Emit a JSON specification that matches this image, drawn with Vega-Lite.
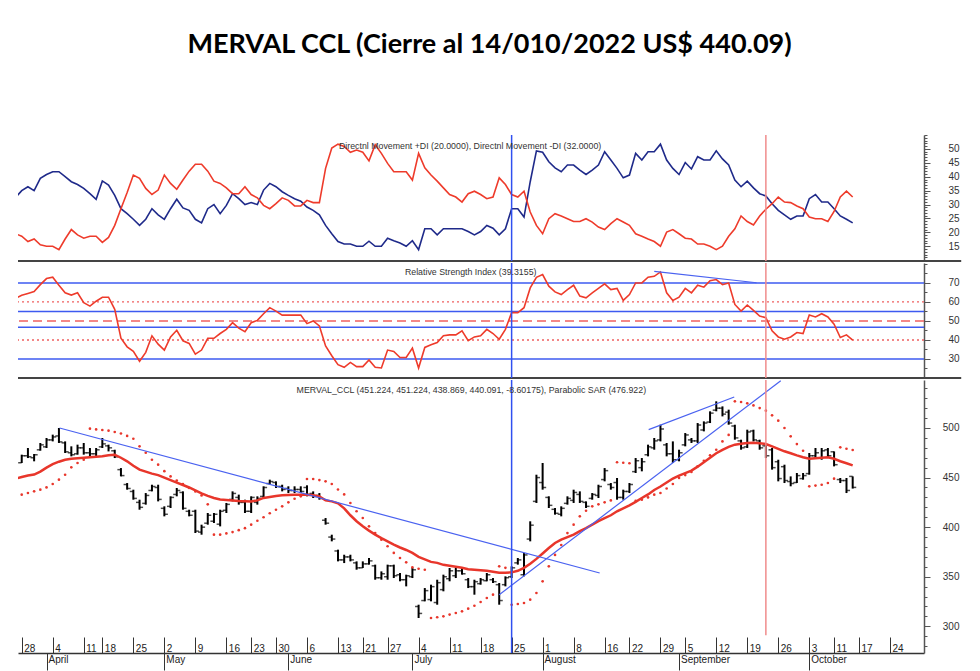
{
  "$schema": "https://vega.github.io/schema/vega-lite/v6.json",
  "background": "white",
  "padding": {"left": 17, "top": 31, "right": 0, "bottom": 0},
  "title": {"text": "MERVAL CCL (Cierre al 14/010/2022 US$ 440.09)", "font": "Lato", "fontSize": 27, "fontWeight": "bold", "color": "#000000", "anchor": "middle", "offset": 75},
  "spacing": 0,
  "resolve": {"scale": {"x": "independent", "y": "independent"}},
  "config": {
    "view": {"stroke": null},
    "axis": {"grid": false, "labelFont": "Liberation Sans", "labelFontSize": 10, "labelColor": "#333333", "tickColor": "#555555", "domainColor": "#555555"},
    "text": {"font": "Liberation Sans"}
  },
  "datasets": {
    "d": [
      {"i":-1,"ma":449,"sar":431,"dp":32.5,"dm":19.5,"rsi":62.0},
      {"i":0,"o":465,"h":473.1,"l":464.7,"c":472,"ma":450.5,"sar":432.8,"dp":35.0,"dm":18.6,"rsi":63.5},
      {"i":1,"o":472,"h":479.8,"l":469.7,"c":471,"ma":452,"sar":434.4,"dp":36.4,"dm":16.7,"rsi":64.5},
      {"i":2,"o":470,"h":473.8,"l":466.4,"c":473,"ma":453,"sar":436.1,"dp":35.0,"dm":17.6,"rsi":65.5},
      {"i":3,"o":478,"h":484.9,"l":477.1,"c":483,"ma":456,"sar":437.8,"dp":39.4,"dm":15.5,"rsi":69.1},
      {"i":4,"o":481,"h":489.9,"l":479.8,"c":488,"ma":460,"sar":440.1,"dp":40.8,"dm":15.0,"rsi":72.3},
      {"i":5,"o":488,"h":493.3,"l":486.5,"c":491,"ma":463.5,"sar":443.5,"dp":41.8,"dm":15.0,"rsi":73.0},
      {"i":6,"o":492,"h":500.0,"l":484.9,"c":486,"ma":466,"sar":447.9,"dp":41.8,"dm":13.8,"rsi":68.8},
      {"i":7,"o":485,"h":486.5,"l":474.8,"c":476,"ma":468,"sar":452.9,"dp":40.0,"dm":17.6,"rsi":64.8},
      {"i":8,"o":475,"h":481.5,"l":471.4,"c":473,"ma":469,"sar":460.3,"dp":38.2,"dm":21.0,"rsi":63.6},
      {"i":9,"o":474,"h":483.2,"l":473.1,"c":480,"ma":469.5,"sar":464.7,"dp":37.2,"dm":19.1,"rsi":64.8},
      {"i":10,"o":480,"h":484.9,"l":473.1,"c":475,"ma":470,"sar":468.0,"dp":35.8,"dm":17.9,"rsi":59.6},
      {"i":11,"o":475,"h":479.8,"l":471.4,"c":474,"ma":470.5,"sar":499.3,"dp":33.9,"dm":18.6,"rsi":57.8},
      {"i":12,"o":474,"h":479.8,"l":471.4,"c":478,"ma":471,"sar":498.6,"dp":31.9,"dm":18.6,"rsi":60.4},
      {"i":13,"o":481,"h":489.9,"l":479.8,"c":484,"ma":471.5,"sar":498.0,"dp":38.5,"dm":16.4,"rsi":62.5},
      {"i":14,"o":482,"h":483.2,"l":476.4,"c":480,"ma":472.5,"sar":497.3,"dp":37.0,"dm":18.2,"rsi":62.5},
      {"i":15,"o":477,"h":478.1,"l":469.7,"c":471,"ma":473,"sar":496.0,"dp":33.3,"dm":22.5,"rsi":56.1},
      {"i":16,"o":458,"h":459.6,"l":451.2,"c":452,"ma":470,"sar":494.5,"dp":28.5,"dm":28.5,"rsi":40.9},
      {"i":17,"o":443,"h":444.5,"l":437.8,"c":439,"ma":466.4,"sar":492.0,"dp":26.7,"dm":34.3,"rsi":36.4},
      {"i":18,"o":436,"h":437.8,"l":427.7,"c":429,"ma":462,"sar":489.2,"dp":24.7,"dm":40.6,"rsi":34.0},
      {"i":19,"o":425,"h":427.7,"l":417.6,"c":420,"ma":458,"sar":481.5,"dp":22.5,"dm":39.4,"rsi":28.8},
      {"i":20,"o":424,"h":434.4,"l":422.7,"c":432,"ma":456,"sar":475,"dp":24.7,"dm":35.8,"rsi":33.5},
      {"i":21,"o":437,"h":442.8,"l":436.1,"c":441,"ma":454,"sar":468,"dp":28.5,"dm":33.6,"rsi":42.2},
      {"i":22,"o":440,"h":442.8,"l":426.0,"c":428,"ma":452.5,"sar":463,"dp":26.3,"dm":35.2,"rsi":37.8},
      {"i":23,"o":419,"h":421.0,"l":410.9,"c":413,"ma":450,"sar":456.5,"dp":24.7,"dm":40.6,"rsi":34.7},
      {"i":24,"o":421,"h":431.1,"l":419.3,"c":430,"ma":447.5,"sar":451.2,"dp":28.5,"dm":37.6,"rsi":41.6},
      {"i":25,"o":433,"h":439.5,"l":431.1,"c":437,"ma":445,"sar":447,"dp":31.9,"dm":35.5,"rsi":45.1},
      {"i":26,"o":435,"h":436.1,"l":417.6,"c":419,"ma":442.5,"sar":443.5,"dp":28.8,"dm":38.8,"rsi":39.6},
      {"i":27,"o":416,"h":417.6,"l":410.9,"c":412,"ma":440,"sar":439.5,"dp":27.9,"dm":42.0,"rsi":38.2},
      {"i":28,"o":416,"h":417.6,"l":394.1,"c":396,"ma":437,"sar":436,"dp":24.7,"dm":44.5,"rsi":32.6},
      {"i":29,"o":395,"h":402.5,"l":392.4,"c":400,"ma":434,"sar":432,"dp":23.4,"dm":44.5,"rsi":34.7},
      {"i":30,"o":404,"h":414.3,"l":402.5,"c":412,"ma":431.5,"sar":423,"dp":28.5,"dm":42.0,"rsi":40.9},
      {"i":31,"o":406,"h":414.3,"l":404.2,"c":413,"ma":429.4,"sar":392.4,"dp":30.0,"dm":38.4,"rsi":40.9},
      {"i":32,"o":403,"h":417.6,"l":400.8,"c":416,"ma":428,"sar":392.4,"dp":26.7,"dm":37.6,"rsi":43.4},
      {"i":33,"o":417,"h":424.4,"l":414.3,"c":423,"ma":427.5,"sar":393.7,"dp":29.7,"dm":36.0,"rsi":45.6},
      {"i":34,"o":428,"h":436.1,"l":426.0,"c":434,"ma":427,"sar":395,"dp":33.9,"dm":33.9,"rsi":49.1},
      {"i":35,"o":430,"h":432.8,"l":422.7,"c":425,"ma":426.5,"sar":397,"dp":32.1,"dm":33.9,"rsi":46.2},
      {"i":36,"o":425,"h":427.7,"l":414.3,"c":416,"ma":426.2,"sar":399,"dp":30.0,"dm":36.4,"rsi":44.4},
      {"i":37,"o":416,"h":431.1,"l":414.3,"c":430,"ma":426,"sar":402.5,"dp":30.7,"dm":33.6,"rsi":49.1},
      {"i":38,"o":425,"h":431.1,"l":422.7,"c":429,"ma":427,"sar":406.5,"dp":30.0,"dm":32.4,"rsi":50.3},
      {"i":39,"o":431,"h":441.2,"l":429.4,"c":440,"ma":429.5,"sar":410,"dp":35.2,"dm":29.7,"rsi":53.8},
      {"i":40,"o":444,"h":447.9,"l":442.8,"c":446,"ma":430.5,"sar":414,"dp":37.6,"dm":28.5,"rsi":57.0},
      {"i":41,"o":445,"h":446.2,"l":439.5,"c":441,"ma":431.5,"sar":417.6,"dp":36.4,"dm":30.3,"rsi":55.2},
      {"i":42,"o":441,"h":442.8,"l":436.1,"c":438,"ma":432.1,"sar":421,"dp":34.6,"dm":32.4,"rsi":53.1},
      {"i":43,"o":439,"h":441.2,"l":434.4,"c":437,"ma":432.5,"sar":425,"dp":33.3,"dm":31.5,"rsi":53.1},
      {"i":44,"o":437,"h":441.2,"l":434.4,"c":438,"ma":432.8,"sar":428.7,"dp":32.1,"dm":29.5,"rsi":53.1},
      {"i":45,"o":438,"h":441.2,"l":434.4,"c":436,"ma":432.8,"sar":431.1,"dp":31.2,"dm":29.5,"rsi":53.1},
      {"i":46,"o":440,"h":442.2,"l":431.1,"c":433,"ma":432.8,"sar":448.6,"dp":29.1,"dm":31.5,"rsi":48.6},
      {"i":47,"o":434,"h":436.1,"l":429.4,"c":431,"ma":432.1,"sar":448.6,"dp":27.9,"dm":30.7,"rsi":50.0},
      {"i":48,"o":432,"h":434.4,"l":427.7,"c":429,"ma":431,"sar":447.5,"dp":26.3,"dm":30.7,"rsi":47.4},
      {"i":49,"o":407,"h":409.2,"l":402.5,"c":404,"ma":427,"sar":446.2,"dp":22.5,"dm":43.0,"rsi":36.9},
      {"i":50,"o":390,"h":392.4,"l":385.7,"c":388,"ma":426,"sar":443.5,"dp":19.5,"dm":50.3,"rsi":31.7},
      {"i":51,"o":376,"h":377.3,"l":365.5,"c":367,"ma":424,"sar":438,"dp":16.7,"dm":51.7,"rsi":27.0},
      {"i":52,"o":367,"h":372.2,"l":363.8,"c":370,"ma":419,"sar":433,"dp":15.8,"dm":50.9,"rsi":25.6},
      {"i":53,"o":370,"h":372.2,"l":365.5,"c":367,"ma":412,"sar":424.4,"dp":15.8,"dm":48.8,"rsi":28.2},
      {"i":54,"o":364,"h":365.5,"l":357.1,"c":359,"ma":406,"sar":416,"dp":15.0,"dm":49.6,"rsi":26.0},
      {"i":55,"o":359,"h":365.5,"l":358.8,"c":363,"ma":401,"sar":409.2,"dp":15.0,"dm":48.8,"rsi":26.0},
      {"i":56,"o":363,"h":368.9,"l":362.2,"c":366,"ma":396.5,"sar":400.8,"dp":16.8,"dm":45.7,"rsi":29.5},
      {"i":57,"o":361,"h":362.2,"l":347.0,"c":349,"ma":392.5,"sar":394.1,"dp":15.0,"dm":51.5,"rsi":25.6},
      {"i":58,"o":349,"h":355.4,"l":347.0,"c":353,"ma":389,"sar":387.4,"dp":15.0,"dm":48.4,"rsi":25.3},
      {"i":59,"o":350,"h":362.2,"l":347.0,"c":361,"ma":385.7,"sar":380.7,"dp":17.9,"dm":44.8,"rsi":34.7},
      {"i":60,"o":361,"h":362.2,"l":348.7,"c":351,"ma":382.5,"sar":374,"dp":17.0,"dm":41.8,"rsi":34.0},
      {"i":61,"o":352,"h":353.8,"l":345.4,"c":347,"ma":379.5,"sar":368.9,"dp":16.2,"dm":41.8,"rsi":30.8},
      {"i":62,"o":347,"h":352.1,"l":340.3,"c":351,"ma":377,"sar":364.5,"dp":15.0,"dm":41.8,"rsi":30.8},
      {"i":63,"o":350,"h":358.8,"l":348.7,"c":357,"ma":374,"sar":359.5,"dp":17.0,"dm":38.8,"rsi":35.7},
      {"i":64,"o":320,"h":321.8,"l":308.4,"c":313,"ma":370,"sar":358.1,"dp":13.8,"dm":48.4,"rsi":25.3},
      {"i":65,"o":326,"h":338.6,"l":325.2,"c":336,"ma":367.5,"sar":357.1,"dp":21.3,"dm":43.2,"rsi":36.1},
      {"i":66,"o":327,"h":342.0,"l":325.2,"c":340,"ma":365,"sar":308.4,"dp":21.3,"dm":40.6,"rsi":37.5},
      {"i":67,"o":324,"h":347.0,"l":321.8,"c":344,"ma":364,"sar":309.1,"dp":19.1,"dm":38.4,"rsi":38.7},
      {"i":68,"o":337,"h":352.1,"l":335.3,"c":350,"ma":362,"sar":310.1,"dp":21.3,"dm":36.0,"rsi":42.2},
      {"i":69,"o":348,"h":358.8,"l":345.4,"c":356,"ma":361,"sar":311.8,"dp":21.3,"dm":33.6,"rsi":42.7},
      {"i":70,"o":351,"h":358.8,"l":348.7,"c":356,"ma":360,"sar":313.4,"dp":21.3,"dm":32.7,"rsi":42.7},
      {"i":71,"o":356,"h":358.8,"l":352.1,"c":353,"ma":359,"sar":315.1,"dp":21.3,"dm":30.9,"rsi":44.8},
      {"i":72,"o":347,"h":348.7,"l":338.6,"c":340,"ma":357.5,"sar":317.8,"dp":20.3,"dm":33.9,"rsi":39.6},
      {"i":73,"o":340,"h":347.0,"l":331.9,"c":345,"ma":357,"sar":320.8,"dp":19.1,"dm":34.8,"rsi":41.6},
      {"i":74,"o":343,"h":348.7,"l":342.0,"c":347,"ma":356.5,"sar":324.5,"dp":20.3,"dm":33.6,"rsi":42.2},
      {"i":75,"o":346,"h":353.8,"l":345.4,"c":352,"ma":356,"sar":328.6,"dp":22.5,"dm":32.1,"rsi":45.6},
      {"i":76,"o":347,"h":348.7,"l":343.7,"c":345,"ma":355,"sar":331.9,"dp":21.5,"dm":32.7,"rsi":43.4},
      {"i":77,"o":342,"h":343.7,"l":321.8,"c":326,"ma":354,"sar":360.5,"dp":19.1,"dm":39.6,"rsi":40.4},
      {"i":78,"o":342,"h":350.4,"l":340.3,"c":349,"ma":354,"sar":359,"dp":21.3,"dm":37.2,"rsi":45.6},
      {"i":79,"o":350,"h":360.5,"l":348.7,"c":359,"ma":354.4,"sar":321.8,"dp":28.5,"dm":33.6,"rsi":54.4},
      {"i":80,"o":364,"h":368.9,"l":362.2,"c":367,"ma":356,"sar":322.5,"dp":28.5,"dm":32.7,"rsi":54.4},
      {"i":81,"o":352,"h":373.9,"l":350.4,"c":372,"ma":359,"sar":323.5,"dp":25.5,"dm":34.8,"rsi":57.0},
      {"i":82,"o":388,"h":405.9,"l":385.7,"c":402,"ma":363,"sar":326.9,"dp":38.2,"dm":27.3,"rsi":67.4},
      {"i":83,"o":426,"h":452.9,"l":424.4,"c":450,"ma":368,"sar":333.6,"dp":49.3,"dm":22.5,"rsi":73.0},
      {"i":84,"o":445,"h":464.7,"l":437.8,"c":440,"ma":373.5,"sar":345.4,"dp":48.8,"dm":19.5,"rsi":74.4},
      {"i":85,"o":430,"h":431.1,"l":419.3,"c":422,"ma":379,"sar":360.5,"dp":45.4,"dm":24.9,"rsi":68.3},
      {"i":86,"o":418,"h":419.3,"l":412.6,"c":414,"ma":384,"sar":372,"dp":43.2,"dm":26.7,"rsi":65.3},
      {"i":87,"o":413,"h":421.0,"l":410.9,"c":419,"ma":387.5,"sar":382,"dp":41.8,"dm":25.9,"rsi":63.9},
      {"i":88,"o":424,"h":431.1,"l":422.7,"c":429,"ma":390,"sar":394,"dp":44.2,"dm":24.9,"rsi":66.5},
      {"i":89,"o":427,"h":437.8,"l":424.4,"c":435,"ma":392.5,"sar":402.5,"dp":44.2,"dm":23.9,"rsi":68.8},
      {"i":90,"o":433,"h":436.1,"l":424.4,"c":426,"ma":396,"sar":410.9,"dp":42.4,"dm":23.9,"rsi":63.1},
      {"i":91,"o":425,"h":426.0,"l":419.3,"c":421,"ma":399,"sar":416.5,"dp":40.8,"dm":24.9,"rsi":62.2},
      {"i":92,"o":429,"h":434.4,"l":427.7,"c":433,"ma":402.5,"sar":421,"dp":42.4,"dm":23.7,"rsi":64.8},
      {"i":93,"o":432,"h":442.8,"l":429.4,"c":441,"ma":406,"sar":423,"dp":44.2,"dm":21.9,"rsi":67.1},
      {"i":94,"o":448,"h":459.6,"l":446.2,"c":457,"ma":409,"sar":425,"dp":49.0,"dm":21.0,"rsi":69.5},
      {"i":95,"o":443,"h":444.5,"l":437.8,"c":440,"ma":412,"sar":427,"dp":46.0,"dm":23.1,"rsi":66.5},
      {"i":96,"o":445,"h":449.6,"l":427.7,"c":430,"ma":416,"sar":465.5,"dp":43.0,"dm":24.9,"rsi":67.1},
      {"i":97,"o":430,"h":437.8,"l":427.7,"c":436,"ma":419,"sar":465,"dp":39.6,"dm":23.7,"rsi":60.8},
      {"i":98,"o":436,"h":444.5,"l":434.4,"c":443,"ma":422,"sar":464.5,"dp":40.6,"dm":22.5,"rsi":63.9},
      {"i":99,"o":456,"h":469.7,"l":454.6,"c":467,"ma":425.5,"sar":426.5,"dp":48.4,"dm":19.5,"rsi":70.0},
      {"i":100,"o":460,"h":469.7,"l":456.3,"c":466,"ma":429.4,"sar":427.7,"dp":46.0,"dm":18.6,"rsi":70.0},
      {"i":101,"o":473,"h":483.2,"l":471.4,"c":481,"ma":433,"sar":430,"dp":49.0,"dm":17.6,"rsi":73.0},
      {"i":102,"o":480,"h":489.9,"l":478.1,"c":487,"ma":437.5,"sar":432.8,"dp":49.0,"dm":16.7,"rsi":73.5},
      {"i":103,"o":488,"h":503.3,"l":486.5,"c":499,"ma":441,"sar":434.4,"dp":51.7,"dm":15.0,"rsi":75.8},
      {"i":104,"o":483,"h":484.9,"l":471.4,"c":474,"ma":445,"sar":439,"dp":46.0,"dm":20.1,"rsi":64.8},
      {"i":105,"o":474,"h":486.5,"l":464.7,"c":468,"ma":449,"sar":443.5,"dp":43.0,"dm":21.0,"rsi":60.8},
      {"i":106,"o":468,"h":478.1,"l":466.4,"c":475,"ma":452,"sar":449.6,"dp":40.8,"dm":19.5,"rsi":62.5},
      {"i":107,"o":483,"h":494.9,"l":481.5,"c":493,"ma":454.5,"sar":452.5,"dp":45.1,"dm":17.9,"rsi":67.1},
      {"i":108,"o":488,"h":489.9,"l":484.9,"c":487,"ma":457,"sar":455.6,"dp":42.8,"dm":17.6,"rsi":64.8},
      {"i":109,"o":487,"h":505.0,"l":484.9,"c":503,"ma":461,"sar":461.3,"dp":47.2,"dm":15.8,"rsi":68.8},
      {"i":110,"o":498,"h":506.7,"l":496.6,"c":505,"ma":465.5,"sar":467,"dp":46.0,"dm":15.8,"rsi":67.8},
      {"i":111,"o":506,"h":516.8,"l":505.0,"c":515,"ma":470,"sar":472.4,"dp":46.0,"dm":15.0,"rsi":71.2},
      {"i":112,"o":518,"h":526.9,"l":516.8,"c":520,"ma":474.5,"sar":478.1,"dp":49.3,"dm":13.8,"rsi":71.8},
      {"i":113,"o":520,"h":521.8,"l":511.7,"c":514,"ma":478,"sar":486.5,"dp":46.4,"dm":15.0,"rsi":69.1},
      {"i":114,"o":516,"h":518.5,"l":503.3,"c":505,"ma":481,"sar":493,"dp":44.2,"dm":18.6,"rsi":70.0},
      {"i":115,"o":502,"h":503.3,"l":488.2,"c":490,"ma":483.2,"sar":526.9,"dp":38.8,"dm":21.3,"rsi":58.7},
      {"i":116,"o":487,"h":488.2,"l":478.1,"c":480,"ma":484,"sar":526.2,"dp":36.4,"dm":25.9,"rsi":55.2},
      {"i":117,"o":481,"h":498.3,"l":479.8,"c":496,"ma":484.8,"sar":524.9,"dp":38.4,"dm":23.9,"rsi":58.4},
      {"i":118,"o":497,"h":498.3,"l":486.5,"c":488,"ma":485,"sar":522.8,"dp":36.0,"dm":22.7,"rsi":55.6},
      {"i":119,"o":487,"h":488.2,"l":478.1,"c":480,"ma":484.5,"sar":520.1,"dp":33.9,"dm":25.9,"rsi":52.6},
      {"i":120,"o":482,"h":483.2,"l":469.7,"c":472,"ma":483.8,"sar":517.5,"dp":33.1,"dm":28.3,"rsi":51.7},
      {"i":121,"o":478,"h":479.8,"l":458.0,"c":460,"ma":481.5,"sar":512.8,"dp":30.3,"dm":30.3,"rsi":44.8},
      {"i":122,"o":466,"h":468.0,"l":446.2,"c":449,"ma":479,"sar":507.4,"dp":27.9,"dm":32.7,"rsi":41.6},
      {"i":123,"o":461,"h":463.0,"l":444.5,"c":447,"ma":476.5,"sar":500,"dp":26.3,"dm":30.9,"rsi":40.4},
      {"i":124,"o":446,"h":451.2,"l":441.2,"c":444,"ma":474.5,"sar":491.6,"dp":24.7,"dm":30.7,"rsi":41.6},
      {"i":125,"o":445,"h":454.6,"l":444.5,"c":452,"ma":472.4,"sar":483.8,"dp":25.9,"dm":29.5,"rsi":43.9},
      {"i":126,"o":449,"h":454.6,"l":447.9,"c":452,"ma":470.5,"sar":477.1,"dp":25.9,"dm":28.5,"rsi":43.4},
      {"i":127,"o":454,"h":474.8,"l":452.9,"c":472,"ma":469.1,"sar":441.2,"dp":32.1,"dm":25.5,"rsi":53.1},
      {"i":128,"o":472,"h":479.8,"l":469.7,"c":475,"ma":469.5,"sar":441.9,"dp":33.6,"dm":24.9,"rsi":52.1},
      {"i":129,"o":470,"h":479.8,"l":468.0,"c":477,"ma":470,"sar":442.8,"dp":30.9,"dm":24.9,"rsi":53.8},
      {"i":130,"o":478,"h":479.8,"l":469.7,"c":472,"ma":470.4,"sar":444.5,"dp":30.9,"dm":23.9,"rsi":52.1},
      {"i":131,"o":476,"h":476.4,"l":461.3,"c":463,"ma":469,"sar":448.9,"dp":28.5,"dm":27.5,"rsi":48.3},
      {"i":132,"o":448,"h":449.6,"l":444.5,"c":447,"ma":466.5,"sar":480.5,"dp":25.9,"dm":32.7,"rsi":41.3},
      {"i":133,"o":447,"h":449.6,"l":434.4,"c":437,"ma":464.5,"sar":479.1,"dp":24.7,"dm":34.8,"rsi":42.7},
      {"i":134,"o":451.2,"h":451.2,"l":438.9,"c":440.1,"ma":462.3,"sar":477.8,"dp":23.4,"dm":32.7,"rsi":39.9}
    ],
    "tl": [
      {"g":"a","x":6.1,"y":500.0},{"g":"a","x":93.2,"y":353.8},
      {"g":"b","x":77.0,"y":331.9},{"g":"b","x":122.4,"y":547.7},
      {"g":"c","x":101.1,"y":498.3},{"g":"c","x":114.9,"y":531.2}
    ]
  },
  "vconcat": [
    {
      "width": 906, "height": 126,
      "data": {"name": "d"},
      "resolve": {"axis": {"y": "independent"}},
      "layer": [
        {"mark": {"type": "line", "color": "#1f2a8a", "strokeWidth": 1.6, "clip": true},
         "encoding": {
           "x": {"field": "i", "type": "quantitative", "scale": {"domain": [-0.6, 145.5], "nice": false, "zero": false}, "axis": null},
           "y": {"field": "dp", "type": "quantitative", "title": null, "scale": {"domain": [9.7, 55.0], "nice": false, "zero": false},
           "axis": {"orient": "right", "values": [15,20,25,30,35,40,45,50], "format": "d", "tickCount": 300, "tickSize": 6, "labelPadding": 29, "labelAlign": "right", "labelOverlap": false, "labelBound": false, "labelFlush": false, "domainWidth": 1.5, "title": null}}}},
        {"mark": {"type": "line", "color": "#ee3b2b", "strokeWidth": 1.6, "clip": true},
         "encoding": {"x": {"field": "i", "type": "quantitative", "axis": null}, "y": {"field": "dm", "type": "quantitative", "title": null,
           "axis": {"orient": "right", "values": [10,11,12,13,14,16,17,18,19,21,22,23,24,26,27,28,29,31,32,33,34,36,37,38,39,41,42,43,44,46,47,48,49,51,52,53,54,55], "tickCount": 300, "tickSize": 3, "labels": false, "domain": false, "title": null}}}},
        {"data": {"values": [{}]}, "mark": {"type": "rule", "color": "#444444", "strokeWidth": 2},
         "encoding": {"x": {"datum": -0.6, "axis": null}, "x2": {"datum": 151.5}, "y": {"datum": 9.7, "axis": null}}},
        {"data": {"values": [{}]}, "mark": {"type": "rule", "color": "#3050f0", "strokeWidth": 1.5}, "encoding": {"x": {"datum": 79, "axis": null}}},
        {"data": {"values": [{}]}, "mark": {"type": "rule", "color": "#f08c8c", "strokeWidth": 1.5}, "encoding": {"x": {"datum": 120, "axis": null}}},
        {"data": {"values": [{}]}, "mark": {"type": "text", "fontSize": 8.8, "color": "#333333", "align": "center", "baseline": "middle"},
         "encoding": {"x": {"datum": 72.3, "axis": null}, "y": {"datum": 51.0, "axis": null}, "text": {"value": "Directnl Movement +DI (20.0000), Directnl Movement -DI (32.0000)"}}}
      ]
    },
    {
      "width": 906, "height": 115,
      "data": {"name": "d"},
      "resolve": {"axis": {"y": "independent"}},
      "layer": [
        {"data": {"values": [{"v":70},{"v":55},{"v":46.7},{"v":30}]}, "mark": {"type": "rule", "color": "#3d5af0", "strokeWidth": 1.5},
         "encoding": {
           "y": {"field": "v", "type": "quantitative", "title": null, "scale": {"domain": [20, 80.5], "nice": false, "zero": false},
           "axis": {"orient": "right", "values": [30,40,50,60,70], "format": "d", "tickCount": 300, "tickSize": 6, "labelPadding": 29, "labelAlign": "right", "labelOverlap": false, "labelBound": false, "labelFlush": false, "domainWidth": 1.5, "title": null}}}},
        {"data": {"values": [{"v":60},{"v":40}]}, "mark": {"type": "rule", "color": "#f06060", "strokeWidth": 1.3, "strokeDash": [2, 3]},
         "encoding": {"y": {"field": "v", "type": "quantitative", "title": null,
           "axis": {"orient": "right", "values": [25,35,45,55,65,75,80], "tickCount": 300, "tickSize": 3, "labels": false, "domain": false, "title": null}}}},
        {"data": {"values": [{"v":50}]}, "mark": {"type": "rule", "color": "#f06060", "strokeWidth": 1.3, "strokeDash": [9, 5]},
         "encoding": {"y": {"field": "v", "type": "quantitative", "title": null, "axis": null}}},
        {"mark": {"type": "line", "color": "#ee3b2b", "strokeWidth": 1.6, "clip": true},
         "encoding": {"x": {"field": "i", "type": "quantitative", "scale": {"domain": [-0.6, 145.5], "nice": false, "zero": false}, "axis": null}, "y": {"field": "rsi", "type": "quantitative", "title": null, "axis": null}}},
        {"data": {"values": [{}]}, "mark": {"type": "rule", "color": "#4a62f0", "strokeWidth": 1.2},
         "encoding": {"x": {"datum": 102.0, "axis": null}, "x2": {"datum": 118.5}, "y": {"datum": 76.1, "axis": null}, "y2": {"datum": 70.1}}},
        {"data": {"values": [{}]}, "mark": {"type": "rule", "color": "#444444", "strokeWidth": 2},
         "encoding": {"x": {"datum": -0.6, "axis": null}, "x2": {"datum": 151.5}, "y": {"datum": 20, "axis": null}}},
        {"data": {"values": [{}]}, "mark": {"type": "rule", "color": "#3050f0", "strokeWidth": 1.5}, "encoding": {"x": {"datum": 79, "axis": null}}},
        {"data": {"values": [{}]}, "mark": {"type": "rule", "color": "#f08c8c", "strokeWidth": 1.5}, "encoding": {"x": {"datum": 120, "axis": null}}},
        {"data": {"values": [{}]}, "mark": {"type": "text", "fontSize": 8.8, "color": "#333333", "align": "center", "baseline": "middle"},
         "encoding": {"x": {"datum": 72.4, "axis": null}, "y": {"datum": 75.8, "axis": null}, "text": {"value": "Relative Strength Index (39.3155)"}}}
      ]
    },
    {
      "width": 906, "height": 273,
      "data": {"name": "d"},
      "resolve": {"axis": {"x": "independent", "y": "independent"}},
      "layer": [
        {"mark": {"type": "rule", "color": "#000000", "strokeWidth": 2},
         "encoding": {
           "x": {"field": "i", "type": "quantitative", "scale": {"domain": [-0.6, 145.5], "nice": false, "zero": false},
             "axis": {"orient": "bottom", "values": [0,5,10,13,18,23,28,33,37,41,46,51,55,59,64,69,74,79,84,89,94,98,103,107,112,117,122,127,131,135,140], "tickCount": 300,
               "labelExpr": "['28','4','11','18','25','2','9','16','23','30','6','13','21','27','4','11','18','25','1','8','16','22','29','5','12','19','26','3','11','17','24'][indexof([0,5,10,13,18,23,28,33,37,41,46,51,55,59,64,69,74,79,84,89,94,98,103,107,112,117,122,127,131,135,140], datum.value)]",
               "tickSize": -16, "tickColor": "#333333", "labelAlign": "left", "labelBaseline": "top", "labelPadding": 6, "labelOffset": 2, "labelColor": "#222222", "labelOverlap": false, "labelBound": false, "labelFlush": false, "domain": true, "domainColor": "#333333", "domainWidth": 1.5, "title": null}},
           "y": {"field": "h", "type": "quantitative", "title": null, "scale": {"domain": [273.1, 548.4], "nice": false, "zero": false},
             "axis": {"orient": "right", "values": [300,350,400,450,500], "format": "d", "tickCount": 300, "tickSize": 6, "labelPadding": 29, "labelAlign": "right", "labelOverlap": false, "labelBound": false, "labelFlush": false, "domainWidth": 1.5, "title": null}},
           "y2": {"field": "l"}
         }},
        {"mark": {"type": "tick", "orient": "horizontal", "size": 3.5, "thickness": 1.5, "xOffset": -1.8, "color": "#000000"},
         "encoding": {"x": {"field": "i", "type": "quantitative", "axis": null}, "y": {"field": "o", "type": "quantitative", "title": null, "axis": null}}},
        {"mark": {"type": "tick", "orient": "horizontal", "size": 3.5, "thickness": 1.5, "xOffset": 1.8, "color": "#000000"},
         "encoding": {"x": {"field": "i", "type": "quantitative", "axis": null}, "y": {"field": "c", "type": "quantitative", "title": null,
           "axis": {"orient": "right", "values": [280,290,310,320,330,340,360,370,380,390,410,420,430,440,460,470,480,490,510,520,530,540], "tickCount": 300, "tickSize": 3, "labels": false, "domain": false, "title": null}}}},
        {"mark": {"type": "line", "color": "#e8362b", "strokeWidth": 2.5, "clip": true},
         "encoding": {"x": {"field": "i", "type": "quantitative", "axis": null}, "y": {"field": "ma", "type": "quantitative", "title": null, "axis": null}}},
        {"mark": {"type": "circle", "color": "#e8362b", "size": 7, "opacity": 1, "clip": true},
         "encoding": {"x": {"field": "i", "type": "quantitative",
             "axis": {"orient": "bottom", "values": [4,23,43,63,84,106,127], "tickCount": 300, "labelExpr": "['April','May','June','July','August','September','October'][indexof([4,23,43,63,84,106,127], datum.value)]",
               "tickSize": 17, "tickColor": "#333333", "labelAlign": "left", "labelBaseline": "top", "labelPadding": -15.5, "labelOffset": 1.5, "labelColor": "#222222", "labelOverlap": false, "labelBound": false, "labelFlush": false, "domain": false, "title": null}},
           "y": {"field": "sar", "type": "quantitative", "title": null, "axis": null}}},
        {"data": {"name": "tl"}, "mark": {"type": "line", "color": "#4a62f0", "strokeWidth": 1.2, "clip": true},
         "encoding": {"x": {"field": "x", "type": "quantitative", "axis": null}, "y": {"field": "y", "type": "quantitative", "title": null, "axis": null}, "detail": {"field": "g"}}},
        {"data": {"values": [{}]}, "mark": {"type": "rule", "color": "#3050f0", "strokeWidth": 1.5}, "encoding": {"x": {"datum": 79, "axis": null}}},
        {"data": {"values": [{}]}, "mark": {"type": "rule", "color": "#f08c8c", "strokeWidth": 1.5}, "encoding": {"x": {"datum": 120, "axis": null}, "y": {"datum": 548.4, "axis": null}, "y2": {"datum": 291}}},
        {"data": {"values": [{}]}, "mark": {"type": "text", "fontSize": 8.8, "color": "#333333", "align": "center", "baseline": "middle"},
         "encoding": {"x": {"datum": 72.5, "axis": null}, "y": {"datum": 538.8, "axis": null}, "text": {"value": "MERVAL_CCL (451.224, 451.224, 438.869, 440.091, -8.60175), Parabolic SAR (476.922)"}}}
      ]
    }
  ]
}
